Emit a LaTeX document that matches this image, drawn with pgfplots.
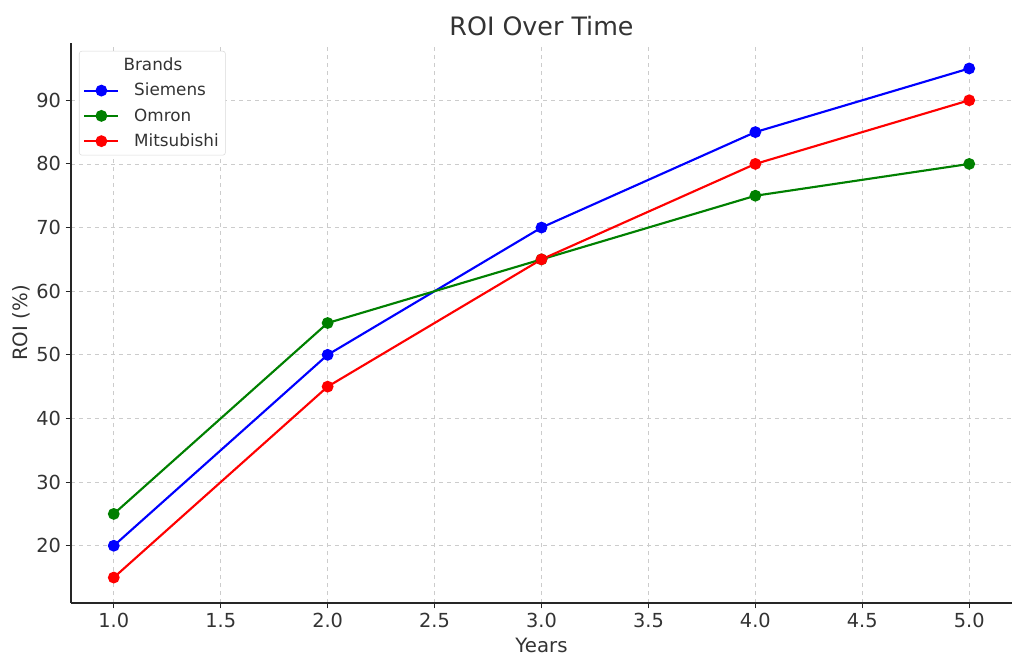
\documentclass[border=0pt]{standalone}
\usepackage{fontspec}
\setmainfont{DejaVu Sans}
\usepackage{pgfplots}
\pgfplotsset{compat=1.18}
\definecolor{mplgreen}{RGB}{0,128,0}
\definecolor{txt}{RGB}{51,51,51}
\begin{document}
\begin{tikzpicture}
\path[use as bounding box] (-53.25pt,-48.75pt) rectangle (714.75pt,452.25pt);
\begin{axis}[
  at={(0,0)}, anchor=south west,
  scale only axis,
  width=705.75pt, height=420pt,
  xmin=0.8, xmax=5.2, ymin=11, ymax=99,
  xtick={1,1.5,...,5},
  ytick={20,30,...,90},
  xticklabel style={/pgf/number format/.cd,fixed,fixed zerofill,precision=1},
  /pgf/number format/assume math mode=true,
  tick label style={font=\fontsize{14.5}{17}\selectfont, text=txt},
  axis x line*=bottom, axis y line*=left,
  axis line style={line width=1pt, black!85},
  tick style={black!85, line width=0.8pt},
  tick align=outside,
  major tick length=4pt,
  grid=major,
  major grid style={dashed, gray!40, line width=0.6pt},
  title={ROI Over Time},
  title style={font=\fontsize{19}{22}\selectfont, text=txt, yshift=-4pt},
  xlabel={Years}, ylabel={ROI (\%)},
  label style={font=\fontsize{14.8}{17}\selectfont, text=txt},
  xlabel style={yshift=-1pt},
  ylabel style={yshift=-2pt},
  legend style={at={(0.0085,0.986)}, anchor=north west, draw=gray!30, rounded corners=2pt,
    font=\fontsize{12.6}{15}\selectfont, text=txt, row sep=4pt, column sep=9pt, inner sep=3pt},
  legend cell align=left,
  legend image code/.code={\draw[mark repeat=2,mark phase=2] plot coordinates {(0cm,0cm) (0.45cm,0cm) (0.9cm,0cm)};},
  every axis plot/.append style={line width=1.6pt, mark=*, mark size=3.6pt},
]
\addlegendimage{empty legend}
\addlegendentry{\hspace*{-8pt}Brands}
\addplot[blue, mark options={fill=blue}] coordinates {(1,20) (2,50) (3,70) (4,85) (5,95)};
\addlegendentry{Siemens}
\addplot[mplgreen, mark options={fill=mplgreen}] coordinates {(1,25) (2,55) (3,65) (4,75) (5,80)};
\addlegendentry{Omron}
\addplot[red, mark options={fill=red}] coordinates {(1,15) (2,45) (3,65) (4,80) (5,90)};
\addlegendentry{Mitsubishi}
\end{axis}
\end{tikzpicture}
\end{document}
